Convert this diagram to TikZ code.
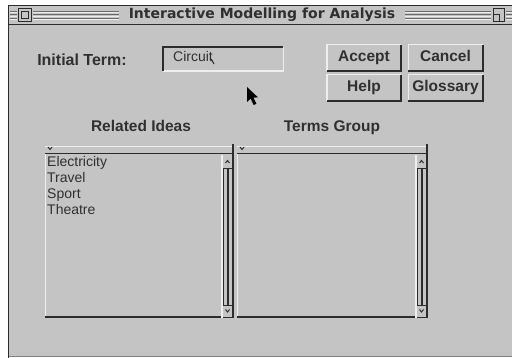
\documentclass[tikz,border=0pt]{standalone}
\usepackage{fontspec}
\setmainfont{Liberation Sans}
\newfontfamily\titlefont{DejaVu Sans}
\definecolor{panel}{HTML}{C4C4C4}
\definecolor{dark}{HTML}{2C2C2C}
\definecolor{light}{HTML}{EEEEEE}
\definecolor{ink}{HTML}{303030}
\begin{document}
\begin{tikzpicture}[x=1pt,y=-1pt,
  lbl/.style={font=\bfseries\fontsize{15.5}{18}\selectfont, text=ink, inner sep=0pt},
  item/.style={font=\fontsize{14}{16}\selectfont, text=ink, inner sep=0pt, anchor=base west},
  btn/.style={lbl, minimum width=74pt, minimum height=26pt, text height=11pt, text depth=3pt},
  hi/.style={draw=light, line width=1.4pt},
  lo/.style={draw=dark, line width=1.8pt},
  thin/.style={draw=dark, line width=0.9pt},
  stripe/.style={draw=dark!70, line width=1pt}]
\useasboundingbox (0,0) rectangle (512,358);
\fill[white] (0,0) rectangle (512,358);

% window body and frame
\fill[panel] (8,5) rectangle (512,356);
\draw[dark, line width=1.6pt] (8.5,358) -- (8.5,5.5) -- (512,5.5);
\draw[dark!60, line width=0.8pt] (8.5,356) -- (512,356);

% title bar
\draw[dark, line width=1.6pt] (8,24.5) -- (512,24.5);
\foreach \a/\b in {10/17, 33/119, 405/491, 506/512}{
  \foreach \yy in {11.5,15,18.5}{
    \draw[stripe] (\a,\yy) -- (\b,\yy);
    \draw[light, line width=0.8pt] (\a,\yy+1.3) -- (\b,\yy+1.3);
  }
}
\draw[thin, fill=panel] (18.5,8.5) rectangle (31.5,21.5);
\draw[thin] (21.5,11.5) rectangle (28.5,18.5);
\draw[thin, fill=panel] (493.5,8.5) rectangle (504.5,21.5);
\draw[thin] (493.5,14) -- (499.5,14) -- (499.5,21.5);
\node[font=\titlefont\bfseries\fontsize{14}{16}\selectfont, text=ink, inner sep=0pt]
  (title) at (262,15) {Interactive Modelling for Analysis};

% initial term row
\node[lbl, font=\bfseries\fontsize{16}{18}\selectfont, anchor=base] (initlbl) at (82,66) {Initial Term:};
\node[minimum width=120pt, minimum height=24pt, inner sep=0pt] (field) at (223,59) {};
\draw[hi] (field.south west) -- (field.south east) -- (field.north east);
\draw[lo] (field.south west) -- (field.north west) -- (field.north east);
\node[item] (term) at (173,62) {Circuit};
\draw[dark, line width=1pt] ([xshift=-2pt,yshift=3pt]term.base east) -- ([xshift=1pt,yshift=-2pt]term.base east);

% buttons
\node[btn] (accept) at (364,58) {Accept};
\node[btn] (cancel) at (445.5,58) {Cancel};
\node[btn] (help) at (364,88) {Help};
\node[btn] (gloss) at (445.5,88) {Glossary};
\foreach \b in {accept,cancel,help,gloss}{
  \draw[hi] (\b.south west) |- (\b.north east);
  \draw[lo] (\b.north east) |- (\b.south west);
}

% mouse pointer
\fill[black] (247,87) -- (247,102) -- (250.6,98.6) -- (253.6,105) -- (256.4,103.8)
  -- (253.4,97.6) -- (258,97.4) -- cycle;

% list headings
\node[lbl, anchor=base] (rel) at (141,132) {Related Ideas};
\node[lbl, anchor=base] (grp) at (332,132) {Terms Group};

% two list boxes with scrollbars
\foreach \x/\w in {45/188, 237/190}{
  \begin{scope}[shift={(\x,0)}]
    \draw[light, line width=1.2pt] (0,146.5) -- (\w-1,146.5);
    \draw[dark, line width=1pt] (3,147) -- (5,149.5) -- (7,147);
    \draw[lo] (0,153.5) -- (\w,153.5);
    \draw[lo] (\w,144) -- (\w,318);
    \draw[light, line width=1.4pt] (0.7,154) -- (0.7,317);
    \draw[lo] (0,317) -- (\w-12,317);
    % scrollbar
    \draw[light, line width=1.2pt] (\w-11,155) -- (\w-11,318);
    \draw[dark, line width=0.9pt] (\w-9.5,168) -- (\w-9.5,305);
    \draw[dark, line width=2.4pt] (\w-5,168) -- (\w-5,305);
    \draw[dark, line width=0.9pt] (\w-10.5,168) -- (\w-1,168);
    \draw[dark, line width=0.9pt] (\w-10.5,305) -- (\w-1,305);
    \draw[dark, line width=1pt] (\w-7.5,163) -- (\w-5.5,160.5) -- (\w-3.5,163);
    \draw[dark, line width=1pt] (\w-7.5,309.5) -- (\w-5.5,312) -- (\w-3.5,309.5);
    \draw[dark, line width=0.9pt] (\w-10.5,317.5) -- (\w,317.5);
  \end{scope}
}

% items of the first list
\node[item] (i1) at (47,167) {Electricity};
\node[item] (i2) at (47,183) {Travel};
\node[item] (i3) at (47,199) {Sport};
\node[item] (i4) at (47,215) {Theatre};
\end{tikzpicture}
\end{document}
